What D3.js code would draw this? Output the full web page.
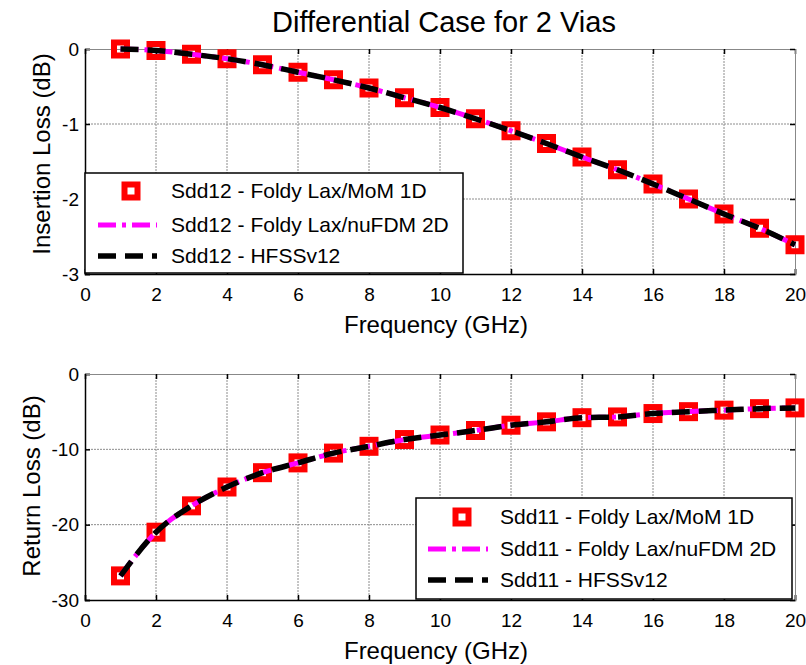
<!DOCTYPE html>
<html>
<head>
<meta charset="utf-8">
<script src="https://cdn.jsdelivr.net/npm/d3@7"></script>
<style>
  body { margin: 0; background: #fff; }
  svg { font-family: "Liberation Sans", Arial, sans-serif; }
</style>
</head>
<body>
<div id="chart"></div>
<script>
// frequency points (GHz)
var freqs = [1, 2, 3, 4, 5, 6, 7, 8, 9, 10, 11, 12, 13, 14, 15, 16, 17, 18, 19, 20];

// Sdd12 insertion loss (dB)
var sdd12MoM = [0, -0.02, -0.07, -0.13, -0.21, -0.31, -0.41, -0.52, -0.65, -0.78,
                -0.93, -1.09, -1.26, -1.44, -1.61, -1.80, -2.00, -2.20, -2.39, -2.61];
var sdd12FDM = [0, -0.02, -0.07, -0.13, -0.21, -0.31, -0.41, -0.52, -0.65, -0.78,
                -0.93, -1.09, -1.26, -1.44, -1.61, -1.80, -2.00, -2.20, -2.39, -2.61];
var sdd12HFSS = [0, -0.02, -0.07, -0.13, -0.21, -0.31, -0.41, -0.52, -0.65, -0.78,
                 -0.93, -1.09, -1.26, -1.44, -1.61, -1.80, -2.00, -2.20, -2.39, -2.61];

// Sdd11 return loss (dB)
var sdd11MoM = [-26.8, -21.0, -17.5, -15.0, -13.1, -11.8, -10.5, -9.6, -8.7, -8.1,
                -7.5, -6.8, -6.35, -5.8, -5.7, -5.25, -5.0, -4.8, -4.6, -4.5];
var sdd11FDM = [-26.8, -21.0, -17.5, -15.0, -13.1, -11.8, -10.5, -9.6, -8.7, -8.1,
                -7.5, -6.8, -6.35, -5.8, -5.7, -5.25, -5.0, -4.8, -4.6, -4.5];
var sdd11HFSS = [-26.8, -21.0, -17.5, -15.0, -13.1, -11.8, -10.5, -9.6, -8.7, -8.1,
                 -7.5, -6.8, -6.35, -5.8, -5.7, -5.25, -5.0, -4.8, -4.6, -4.5];

var xTicks = [0, 2, 4, 6, 8, 10, 12, 14, 16, 18, 20];
var topYTicks = [0, -1, -2, -3];
var botYTicks = [0, -10, -20, -30];

var topLegend = ["Sdd12 - Foldy Lax/MoM 1D", "Sdd12 - Foldy Lax/nuFDM 2D", "Sdd12 - HFSSv12"];
var botLegend = ["Sdd11 - Foldy Lax/MoM 1D", "Sdd11 - Foldy Lax/nuFDM 2D", "Sdd11 - HFSSv12"];

var width = 806, height = 665;
var svg = d3.select('#chart').append('svg')
    .attr('width', width).attr('height', height);

svg.append('text')
    .attr('x', 444).attr('y', 32)
    .attr('text-anchor', 'middle')
    .attr('font-size', 29)
    .text('Differential Case for 2 Vias');

function zip(ys) {
    return freqs.map(function(f, i) { return { x: f, y: ys[i] }; });
}

function fmtTick(d) { return d < 0 ? '-' + Math.abs(d) : String(d); }

function drawPanel(cfg) {
    var x = d3.scaleLinear().domain([0, 20]).range([cfg.left, cfg.right]);
    var y = d3.scaleLinear().domain(cfg.yDomain).range([cfg.bottom, cfg.top]);
    var g = svg.append('g');

    // grid
    g.selectAll('.vgrid').data(xTicks.slice(1, -1)).enter().append('line')
        .attr('x1', d => x(d)).attr('x2', d => x(d))
        .attr('y1', cfg.top).attr('y2', cfg.bottom)
        .attr('stroke', '#8c8c8c').attr('stroke-width', 1).attr('stroke-dasharray', '2,1');
    g.selectAll('.hgrid').data(cfg.yTicks.slice(1, -1)).enter().append('line')
        .attr('x1', cfg.left).attr('x2', cfg.right)
        .attr('y1', d => y(d)).attr('y2', d => y(d))
        .attr('stroke', '#8c8c8c').attr('stroke-width', 1).attr('stroke-dasharray', '2,1');

    // axes, ticks pointing inward
    var bottomAxis = d3.axisBottom(x).tickValues(xTicks).tickSize(-5).tickPadding(14).tickFormat(fmtTick);
    var topAxis = d3.axisTop(x).tickValues(xTicks).tickSize(-5).tickFormat('');
    var leftAxis = d3.axisLeft(y).tickValues(cfg.yTicks).tickSize(-5).tickPadding(6).tickFormat(fmtTick);
    var rightAxis = d3.axisRight(y).tickValues(cfg.yTicks).tickSize(-5).tickFormat('');

    [[bottomAxis, 'translate(0,' + cfg.bottom + ')', '#000', 1.5],
     [leftAxis, 'translate(' + cfg.left + ',0)', '#000', 1.5],
     [topAxis, 'translate(0,' + cfg.top + ')', '#888', 1],
     [rightAxis, 'translate(' + cfg.right + ',0)', '#888', 1]].forEach(function(a) {
        var ax = g.append('g').attr('transform', a[1]).call(a[0]);
        ax.select('.domain').attr('stroke', a[2]).attr('stroke-width', a[3]);
        ax.selectAll('.tick line').attr('stroke', '#000').attr('stroke-width', 1.5);
        ax.selectAll('.tick text').attr('font-size', 19).attr('fill', '#000')
            .attr('font-family', '"Liberation Sans", Arial, sans-serif');
    });

    // axis labels
    g.append('text')
        .attr('x', 436).attr('y', cfg.bottom + 59)
        .attr('text-anchor', 'middle').attr('font-size', 24)
        .text('Frequency (GHz)');
    g.append('text')
        .attr('transform', 'translate(' + cfg.labelX + ',' + cfg.labelY + ') rotate(-90)')
        .attr('text-anchor', 'middle').attr('font-size', 24)
        .text(cfg.yLabel);

    var line = d3.line().x(d => x(d.x)).y(d => y(d.y)).curve(d3.curveMonotoneX);

    // markers
    g.selectAll('.mk').data(zip(cfg.mom)).enter().append('rect')
        .attr('x', d => x(d.x) - 6.5).attr('y', d => y(d.y) - 6.5)
        .attr('width', 13).attr('height', 13)
        .attr('fill', 'none').attr('stroke', '#ff0000').attr('stroke-width', 6);

    g.append('path').attr('d', line(zip(cfg.fdm)))
        .attr('fill', 'none').attr('stroke', '#ff00ff').attr('stroke-width', 5)
        .attr('stroke-dasharray', '18,6,4,6');
    g.append('path').attr('d', line(zip(cfg.hfss)))
        .attr('fill', 'none').attr('stroke', '#000').attr('stroke-width', 5.5)
        .attr('stroke-dasharray', '18,9');

    // legend
    var L = cfg.legend;
    var lg = g.append('g');
    lg.append('rect').attr('x', L.x).attr('y', L.y).attr('width', L.w).attr('height', L.h)
        .attr('fill', '#fff').attr('stroke', '#000').attr('stroke-width', 1.5);
    var rows = L.rows;
    lg.append('rect').attr('x', L.mx - 6.5).attr('y', rows[0] - 6.5)
        .attr('width', 13).attr('height', 13)
        .attr('fill', 'none').attr('stroke', '#ff0000').attr('stroke-width', 6);
    lg.append('line').attr('x1', L.sx0).attr('x2', L.sx1).attr('y1', rows[1]).attr('y2', rows[1])
        .attr('stroke', '#ff00ff').attr('stroke-width', 5).attr('stroke-dasharray', '18,6,4,6');
    lg.append('line').attr('x1', L.sx0).attr('x2', L.sx1).attr('y1', rows[2]).attr('y2', rows[2])
        .attr('stroke', '#000').attr('stroke-width', 5.5).attr('stroke-dasharray', '18,9');
    cfg.labels.forEach(function(t, i) {
        lg.append('text').attr('x', L.tx).attr('y', rows[i]).attr('dy', '0.35em')
            .attr('font-size', 21).text(t);
    });
}

drawPanel({
    left: 85, right: 795, top: 49, bottom: 274,
    yDomain: [-3, 0], yTicks: topYTicks, yLabel: 'Insertion Loss (dB)', labelX: 50, labelY: 154,
    mom: sdd12MoM, fdm: sdd12FDM, hfss: sdd12HFSS, labels: topLegend,
    legend: { x: 85, y: 173, w: 378, h: 100, mx: 131, sx0: 98, sx1: 157, tx: 171, rows: [191, 225, 256] }
});

drawPanel({
    left: 85, right: 795, top: 374, bottom: 600,
    yDomain: [-30, 0], yTicks: botYTicks, yLabel: 'Return Loss (dB)', labelX: 40, labelY: 486,
    mom: sdd11MoM, fdm: sdd11FDM, hfss: sdd11HFSS, labels: botLegend,
    legend: { x: 416, y: 498, w: 376, h: 101, mx: 462, sx0: 428, sx1: 488, tx: 500, rows: [517, 549, 580] }
});
</script>
</body>
</html>
